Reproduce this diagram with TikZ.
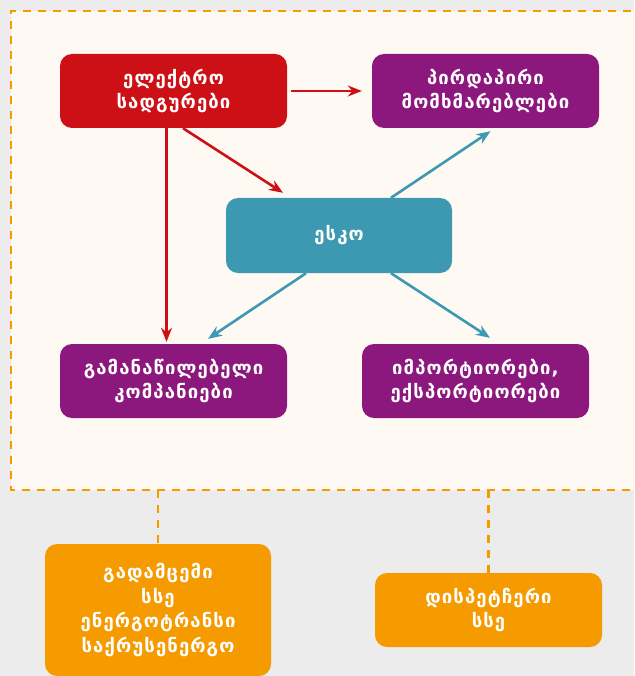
\documentclass[tikz,border=0pt]{standalone}
\usepackage{fontspec}
\usetikzlibrary{arrows.meta}
\newfontfamily\geo[LetterSpace=6]{DejaVu Sans}
\definecolor{bgray}{HTML}{ECECEC}
\definecolor{cream}{HTML}{FEF9F3}
\definecolor{cred}{HTML}{CC1016}
\definecolor{cpurp}{HTML}{8C177D}
\definecolor{cteal}{HTML}{3D99B1}
\definecolor{corange}{HTML}{F59B00}
\tikzset{
  box/.style={rounded corners=12pt, minimum width=227pt, minimum height=74pt, inner sep=0pt,
     align=center, text=white, font=\geo\bfseries\fontsize{18.5}{24.5}\selectfont},
  redbox/.style={box, fill=cred},
  purpbox/.style={box, fill=cpurp},
  tealbox/.style={box, fill=cteal},
  orbox/.style={box, fill=corange},
  redarrow/.style={draw=cred, line width=2.6pt, -{Stealth[length=14pt,width=11pt]}},
  tealarrow/.style={draw=cteal, line width=2.6pt, -{Stealth[length=14pt,width=11pt]}},
  framedash/.style={draw=corange, line width=2.4pt, dash pattern=on 8pt off 7pt},
}
\begin{document}
\begin{tikzpicture}[x=1pt,y=-1pt]
\useasboundingbox (0,0) rectangle (634,676);
\fill[bgray] (0,0) rectangle (634,676);
\fill[cream] (11,11) rectangle (660,490);
\draw[framedash] (660,490) -- (11,490) -- (11,11) -- (660,11);
\coordinate (fb1) at (158,490);
\coordinate (fb2) at (488.5,490);

\node[redbox] (ele) at (173.5,91) {ელექტრო\\სადგურები};
\node[purpbox] (pir) at (485.5,91) {პირდაპირი\\მომხმარებლები};
\node[tealbox, minimum width=226pt, minimum height=75pt] (esko) at (339,235.5) {ესკო};
\node[purpbox] (gam) at (173.5,381) {გამანაწილებელი\\კომპანიები};
\node[purpbox] (imp) at (475.5,381) {იმპორტიორები,\\ექსპორტიორები};
\node[orbox, minimum width=226pt, minimum height=132pt] (tso) at (158,610) {გადამცემი\\სსე\\ენერგოტრანსი\\საქრუსენერგო};
\node[orbox] (dis) at (488.5,610) {დისპეტჩერი\\სსე};

\draw[redarrow] ([xshift=4pt]ele.east) -- ([xshift=-10pt]pir.west);
\draw[redarrow] ([xshift=-7pt]ele.south) -- ([xshift=-7pt,yshift=2pt]gam.north);
\draw[redarrow] ([xshift=9.5pt]ele.south) -- ([xshift=-56pt,yshift=5pt]esko.north);
\draw[tealarrow] ([xshift=52pt]esko.north) -- ([xshift=5pt,yshift=-3pt]pir.south);
\draw[tealarrow] ([xshift=-33pt]esko.south) -- ([xshift=34.5pt,yshift=5pt]gam.north);
\draw[tealarrow] ([xshift=52pt]esko.south) -- ([xshift=14.5pt,yshift=6pt]imp.north);

\draw[framedash] (fb1) -- (tso.north);
\draw[framedash] (fb2) -- (dis.north);
\end{tikzpicture}
\end{document}
